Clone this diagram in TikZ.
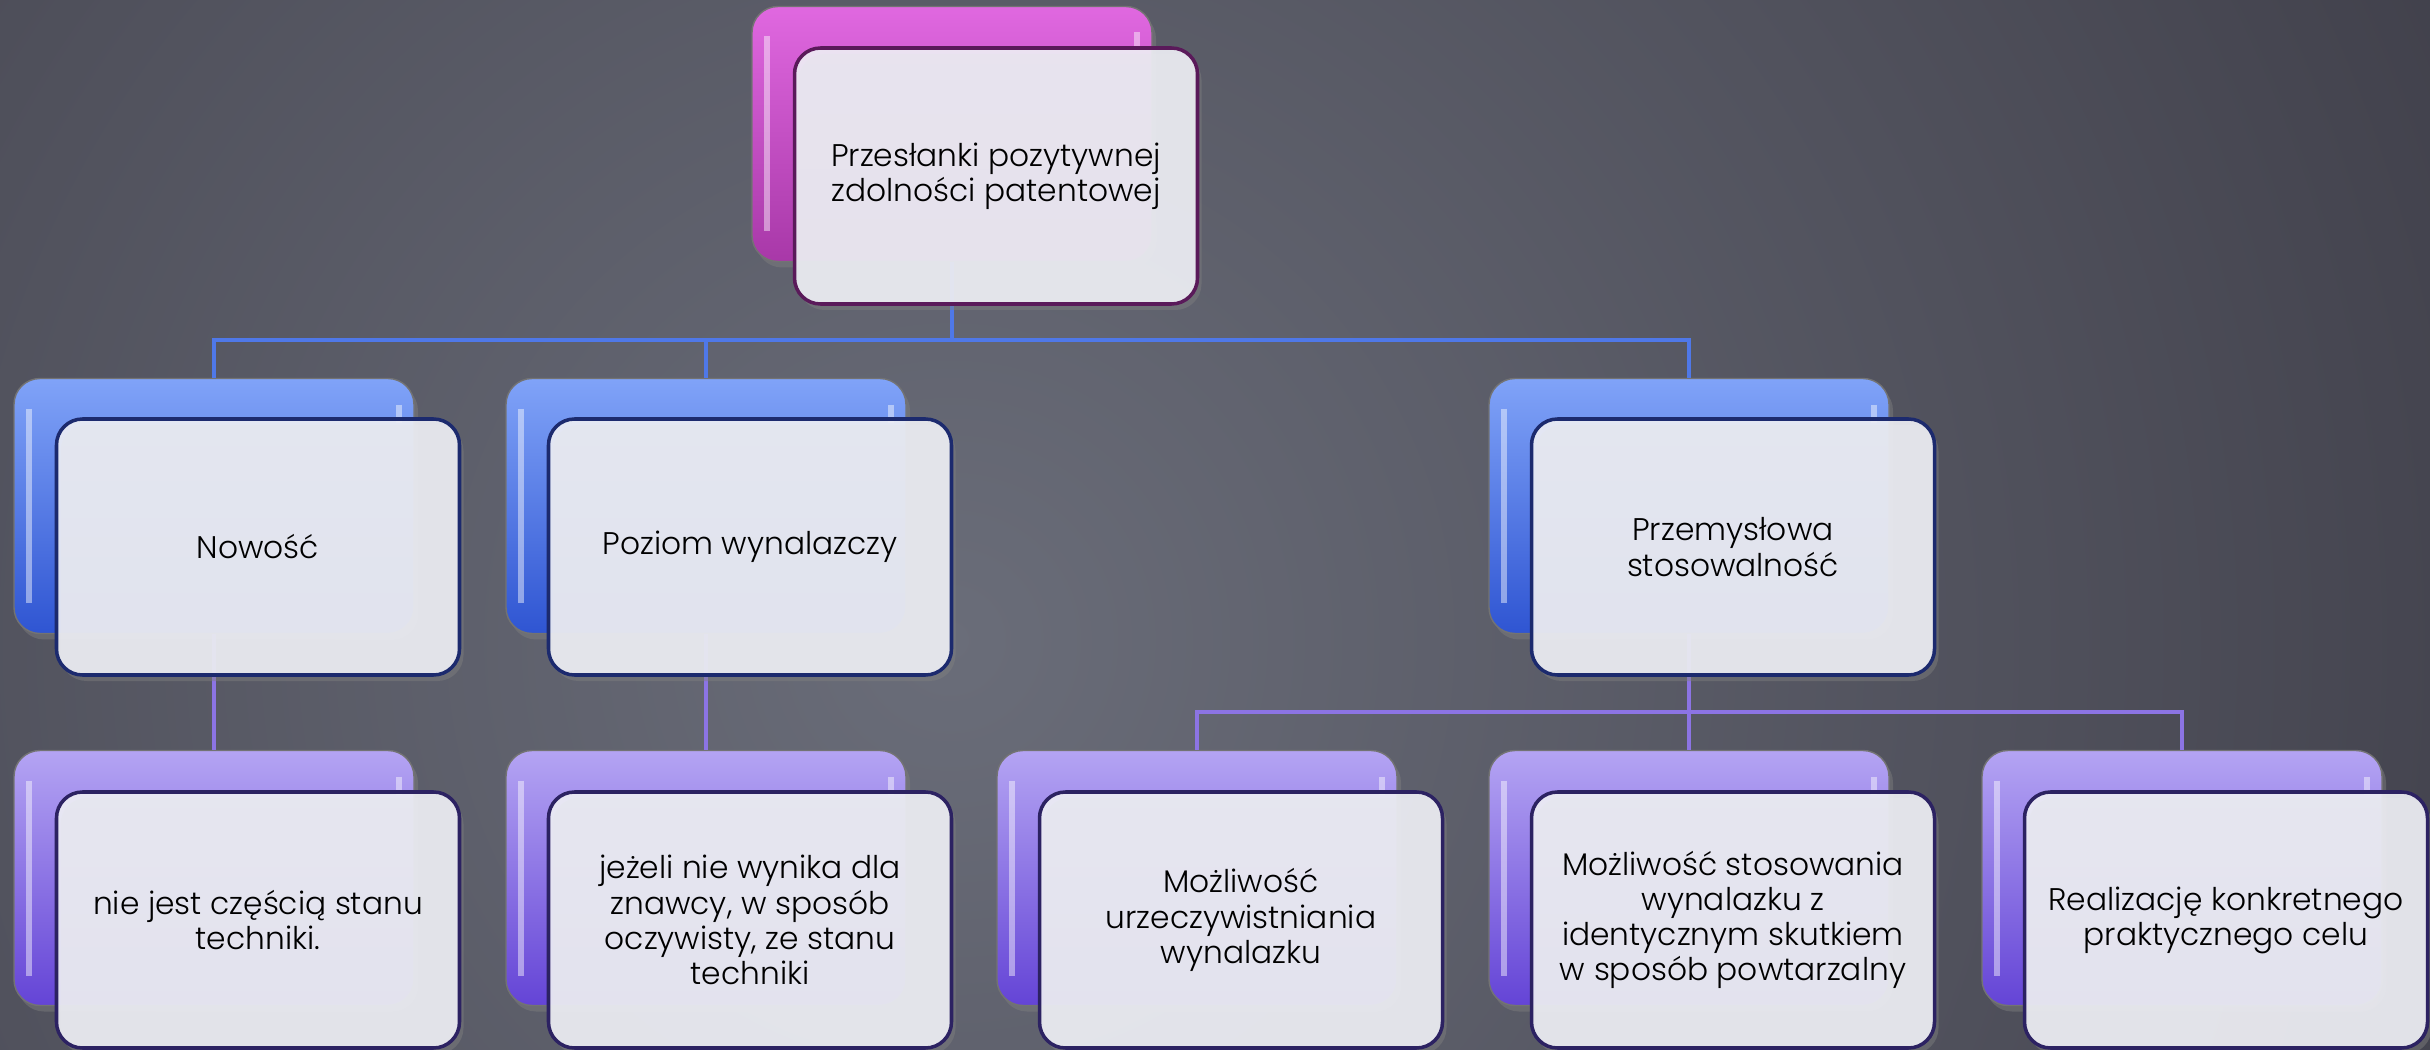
\documentclass[tikz,border=0pt]{standalone}
\usepackage{fontspec}
\IfFontExistsTF{Poppins Light}{\setmainfont{Poppins Light}}{\setmainfont{Poppins}}
\usetikzlibrary{positioning,shadows}

\definecolor{bgdark}{HTML}{2C2A34}
\definecolor{bglight}{HTML}{6A6D79}
\definecolor{magtop}{HTML}{E068E0}
\definecolor{magbot}{HTML}{A838A8}
\definecolor{magrim}{HTML}{5A1A5A}
\definecolor{bluetop}{HTML}{80A3F8}
\definecolor{bluebot}{HTML}{2F55D2}
\definecolor{bluerim}{HTML}{1C2A6E}
\definecolor{lavtop}{HTML}{B4A4F3}
\definecolor{lavbot}{HTML}{6444D6}
\definecolor{lavrim}{HTML}{2C2262}
\definecolor{cardfill}{HTML}{EDEEF4}
\definecolor{bluelink}{HTML}{4F78E8}
\definecolor{lavlink}{HTML}{8C74E4}

\tikzset{
  backbox/.style={rectangle,rounded corners=2.6mm,minimum width=40mm,
    minimum height=25.5mm,inner sep=0pt,draw=black!55,line width=0.4pt,
    drop shadow={opacity=0.45,shadow xshift=0.4mm,shadow yshift=-0.6mm},
    path picture={
      \draw[white,opacity=0.45,line width=1.6pt]
        ([xshift=1.5mm,yshift=-3mm]path picture bounding box.north west) --
        ([xshift=1.5mm,yshift=3mm]path picture bounding box.south west);
      \draw[white,opacity=0.45,line width=1.6pt]
        ([xshift=-1.5mm,yshift=-2.6mm]path picture bounding box.north east) --
        ([xshift=-1.5mm,yshift=-4.4mm]path picture bounding box.north east);}},
  magback/.style={backbox,top color=magtop,bottom color=magbot},
  blueback/.style={backbox,top color=bluetop,bottom color=bluebot},
  lavback/.style={backbox,top color=lavtop,bottom color=lavbot},
  card/.style={rectangle,rounded corners=2.6mm,minimum width=40.3mm,
    minimum height=25.6mm,inner sep=1mm,fill=cardfill,fill opacity=0.92,
    text opacity=1,line width=1pt,align=center,
    font=\fontsize{8.9}{10}\selectfont,
    drop shadow={opacity=0.45,shadow xshift=0.4mm,shadow yshift=-0.6mm}},
  magcard/.style={card,draw=magrim},
  bluecard/.style={card,draw=bluerim},
  lavcard/.style={card,draw=lavrim},
  link1/.style={draw=bluelink,line width=0.9pt},
  link2/.style={draw=lavlink,line width=0.9pt}
}

\begin{document}
\begin{tikzpicture}[x=0.1mm,y=-0.1mm]

% background
\useasboundingbox (0,0) rectangle (2430,1050);
\begin{scope}
\clip (0,0) rectangle (2430,1050);
\fill[bgdark] (0,0) rectangle (2430,1050);
\shade[inner color=bglight,outer color=bgdark] (950,640) circle[radius=250mm];
\end{scope}

% back boxes
\node[magback] (topb) at (952,134) {};

\node[blueback] (novb) at (214,506) {};
\node[blueback] (pozb) at (706,506) {};
\node[blueback] (przb) at (1689,506) {};

\node[lavback] (nieb) at (214,878) {};
\node[lavback] (jezb) at (706,878) {};
\node[lavback] (urzb) at (1197,878) {};
\node[lavback] (powb) at (1689,878) {};
\node[lavback] (celb) at (2182,878) {};

% connectors
\coordinate (bus1) at (952,340);
\coordinate (bus2) at (1689,712);

\draw[link1] (topb.south) -- (bus1);
\draw[link1] (novb.north) |- (bus1) -| (przb.north);
\draw[link1] (pozb.north) -- (pozb.north |- bus1);

\draw[link2] (novb.south) -- (nieb.north);
\draw[link2] (pozb.south) -- (jezb.north);
\draw[link2] (przb.south) -- (bus2);
\draw[link2] (urzb.north) |- (bus2) -| (celb.north);
\draw[link2] (powb.north) -- (powb.north |- bus2);

% front cards
\node[magcard] (top) at ([shift={(44,42)}]topb.center)
  {Przesłanki pozytywnej\\zdolności patentowej};

\node[bluecard] (nov) at ([shift={(44,41)}]novb.center) {Nowość};
\node[bluecard] (poz) at ([shift={(44,41)}]pozb.center) {Poziom wynalazczy};
\node[bluecard] (prz) at ([shift={(44,41)}]przb.center)
  {Przemysłowa\\stosowalność};

\node[lavcard] (nie) at ([shift={(44,42)}]nieb.center)
  {nie jest częścią stanu\\techniki.};
\node[lavcard] (jez) at ([shift={(44,42)}]jezb.center)
  {jeżeli nie wynika dla\\znawcy, w sposób\\oczywisty, ze stanu\\techniki};
\node[lavcard] (urz) at ([shift={(44,42)}]urzb.center)
  {Możliwość\\urzeczywistniania\\wynalazku};
\node[lavcard] (pow) at ([shift={(44,42)}]powb.center)
  {Możliwość stosowania\\wynalazku z\\identycznym skutkiem\\w sposób powtarzalny};
\node[lavcard] (cel) at ([shift={(44,42)}]celb.center)
  {Realizację konkretnego\\praktycznego celu};

\end{tikzpicture}
\end{document}
